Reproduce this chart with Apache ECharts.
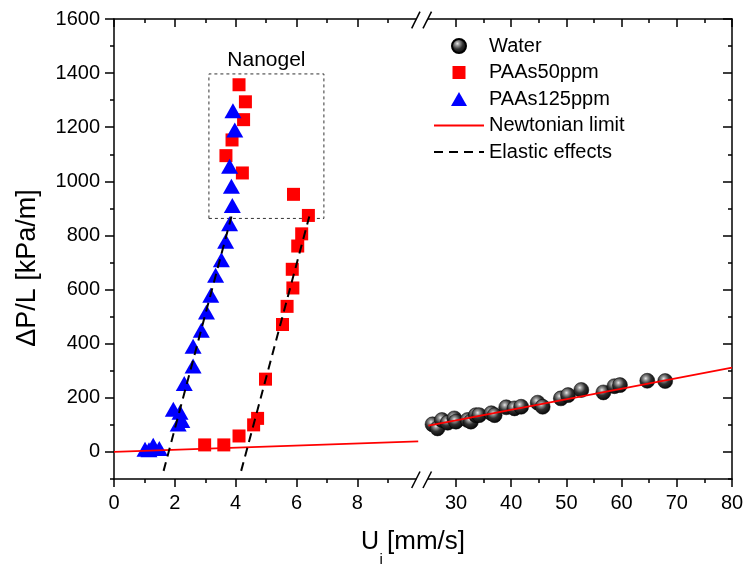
<!DOCTYPE html>
<html>
<head>
<meta charset="utf-8">
<script src="https://cdn.jsdelivr.net/npm/echarts@6/dist/echarts.min.js"></script>
<style>
html,body{margin:0;padding:0;background:#fff;}
#chart{width:747px;height:568px;}
</style>
</head>
<body>
<div id="chart"></div>
<script>
// ---- data ----
const seriesNames = ['Water', 'PAAs50ppm', 'PAAs125ppm', 'Newtonian limit', 'Elastic effects'];
const water = [[25.75,102],[26.65,87],[27.45,118],[28.5,108],[29.7,124],[30,112],[32.1,118],[32.7,112],[33.6,136],[34.2,136],[36.4,143],[37,136],[39.1,165],[40.6,161],[41.8,167],[44.8,182],[45.7,167],[49,198],[50.3,210],[52.7,229],[56.7,220],[58.7,243],[59.7,247],[64.65,263],[67.9,262]];
const paas50 = [[2.98,26],[3.61,26],[4.11,59],[4.59,100],[4.72,124],[4.98,269],[5.54,471],[5.69,538],[5.88,606],[5.86,675],[6.04,761],[6.17,806],[6.39,874],[5.90,952],[4.22,1031],[3.68,1095],[3.88,1153],[4.26,1228],[4.32,1294],[4.11,1357]];
const paas125 = [[1.02,10],[1.15,8],[1.29,25],[1.49,13],[1.95,158],[2.17,147],[2.23,116],[2.11,103],[2.31,253],[2.60,318],[2.60,391],[2.87,450],[3.04,517],[3.18,579],[3.34,653],[3.53,710],[3.67,779],[3.80,843],[3.89,911],[3.86,982],[3.80,1056],[3.97,1190],[3.91,1261]];
const newtonLeft = [[0,0],[10,39]];
const newtonRight = [[25,97.5],[80,312]];
const elasticBlue = [[1.63,-70],[3.86,870]];
const elasticRed = [[4.18,-70],[6.42,870]];
const nanogelBox = [[3.12,863],[6.9,1397]];
const nanogelLabel = 'Nanogel';
// axis ranges & ticks
const xLeftRange = [0, 10];
const xRightRange = [25, 80];
const yRange = [-100, 1600];
const xLeftMajor = [0,2,4,6,8];
const xLeftMinor = [1,3,5,7,9];
const xRightMajor = [30,40,50,60,70,80];
const xRightMinor = [35,45,55,65,75];
const yMajor = [0,200,400,600,800,1000,1200,1400,1600];
const yMinor = [-100,100,300,500,700,900,1100,1300,1500];
const xTitleMain = 'U';
const xTitleSub = 'i';
const xTitleUnit = '[mm/s]';
const yTitle = '\u0394P/L [kPa/m]';

const FONT = 'Arial, "Liberation Sans", sans-serif';
const chart = echarts.init(document.getElementById('chart'), null, {renderer: 'canvas'});

function axis(gridIndex, range, position, ticks, opts) {
  const o = Object.assign({showLine: true, inside: false, len: 8, labels: false}, opts || {});
  return {
    type: 'value', gridIndex: gridIndex, min: range[0], max: range[1], position: position,
    axisLine: {show: o.showLine, onZero: false, lineStyle: {color: '#000', width: 1.5}},
    axisTick: {show: true, inside: o.inside, length: o.len, customValues: ticks, lineStyle: {color: '#000', width: 1.5}},
    axisLabel: o.labels ? {show: true, customValues: ticks, margin: 14, fontSize: 20, color: '#000', fontFamily: FONT,
      formatter: function (v) { return String(v); }} : {show: false},
    splitLine: {show: false},
    minorTick: {show: false}
  };
}

const xAxes = [
  axis(0, xLeftRange, 'bottom', xLeftMajor, {labels: true}),
  axis(0, xLeftRange, 'bottom', xLeftMinor, {showLine: false, len: 4}),
  axis(0, xLeftRange, 'top', xLeftMajor, {inside: true}),
  axis(0, xLeftRange, 'top', xLeftMinor, {showLine: false, inside: true, len: 4}),
  axis(1, xRightRange, 'bottom', xRightMajor, {labels: true}),
  axis(1, xRightRange, 'bottom', xRightMinor, {showLine: false, len: 4}),
  axis(1, xRightRange, 'top', xRightMajor, {inside: true}),
  axis(1, xRightRange, 'top', xRightMinor, {showLine: false, inside: true, len: 4})
];
const yAxes = [
  axis(0, yRange, 'left', yMajor, {labels: true, len: 9}),
  axis(0, yRange, 'left', yMinor, {showLine: false, len: 4}),
  axis(1, yRange, 'right', yMajor, {inside: true, len: 9}),
  axis(1, yRange, 'right', yMinor, {showLine: false, inside: true, len: 4})
];

const sphere = {
  type: 'radial', x: 0.4, y: 0.35, r: 0.7,
  colorStops: [
    {offset: 0, color: '#e8e8e8'},
    {offset: 0.18, color: '#9a9a9a'},
    {offset: 0.5, color: '#303030'},
    {offset: 1, color: '#000000'}
  ]
};

// legend icons: invisible anchor points keep the icon box at 50x14 so shapes are not stretched
const legendIcons = {
  'PAAs50ppm': 'path://M0,0M50,14M18.5,0.5L31.5,0.5L31.5,13.5L18.5,13.5Z',
  'PAAs125ppm': 'path://M0,0M50,14M17,14L33,14L25,0Z'
};

const option = {
  backgroundColor: '#fff',
  animation: false,
  grid: [
    {left: 114, top: 19, width: 304.2, height: 460},
    {left: 428.4, top: 19, width: 303.6, height: 460}
  ],
  xAxis: xAxes,
  yAxis: yAxes,
  legend: {
    data: seriesNames.map(function (n) { return legendIcons[n] ? {name: n, icon: legendIcons[n]} : {name: n}; }),
    orient: 'vertical', left: 433, top: 36, padding: 0,
    itemWidth: 50, itemHeight: 14, itemGap: 6.5,
    textStyle: {fontSize: 20, color: '#000', fontFamily: FONT},
    selectedMode: false
  },
  series: [
    {name: 'Water', type: 'scatter', xAxisIndex: 4, yAxisIndex: 2, data: water,
     symbol: 'circle', symbolSize: 15, itemStyle: {color: sphere, borderColor: '#000', borderWidth: 0.5, opacity: 1}, z: 2},
    {name: 'PAAs50ppm', type: 'scatter', xAxisIndex: 0, yAxisIndex: 0, data: paas50,
     symbol: 'rect', symbolSize: 13, itemStyle: {color: '#ff0000', opacity: 1}, z: 2},
    {name: 'PAAs125ppm', type: 'scatter', xAxisIndex: 0, yAxisIndex: 0, data: paas125,
     symbol: 'triangle', symbolSize: [17, 15], itemStyle: {color: '#0000ff', opacity: 1}, z: 2},
    {name: 'Newtonian limit', type: 'line', xAxisIndex: 0, yAxisIndex: 0, data: newtonLeft,
     symbol: 'none', lineStyle: {color: '#ff0000', width: 1.8}, itemStyle: {color: '#ff0000', opacity: 0}, z: 3},
    {name: 'Newtonian limit', type: 'line', xAxisIndex: 4, yAxisIndex: 2, data: newtonRight,
     symbol: 'none', lineStyle: {color: '#ff0000', width: 1.8}, itemStyle: {color: '#ff0000', opacity: 0}, z: 3},
    {name: 'Elastic effects', type: 'line', xAxisIndex: 0, yAxisIndex: 0, data: elasticBlue,
     symbol: 'none', lineStyle: {color: '#000', width: 2, type: [9, 6]}, itemStyle: {color: '#000', opacity: 0}, z: 3},
    {name: 'Elastic effects', type: 'line', xAxisIndex: 0, yAxisIndex: 0, data: elasticRed,
     symbol: 'none', lineStyle: {color: '#000', width: 2, type: [9, 6]}, itemStyle: {color: '#000', opacity: 0}, z: 3},
    {name: 'nanogel-box', type: 'scatter', xAxisIndex: 0, yAxisIndex: 0, data: [],
     markArea: {
       silent: true,
       itemStyle: {color: 'rgba(0,0,0,0)', borderColor: '#333', borderWidth: 1, borderType: [3, 3]},
       label: {show: true, position: 'top', distance: 3, formatter: nanogelLabel, fontSize: 21, color: '#000', fontFamily: FONT},
       data: [[{coord: nanogelBox[0]}, {coord: nanogelBox[1]}]]
     }}
  ],
  graphic: [
    {type: 'rect', shape: {x: 416.5, y: 16, width: 11, height: 6}, style: {fill: '#fff'}, z: 100},
    {type: 'rect', shape: {x: 416.5, y: 476, width: 11, height: 6}, style: {fill: '#fff'}, z: 100},
    {type: 'line', shape: {x1: 411.7, y1: 28.3, x2: 420, y2: 11.7}, style: {stroke: '#000', lineWidth: 1.5}, z: 101},
    {type: 'line', shape: {x1: 423, y1: 28.3, x2: 431.5, y2: 11.7}, style: {stroke: '#000', lineWidth: 1.5}, z: 101},
    {type: 'line', shape: {x1: 411.7, y1: 488, x2: 420, y2: 471.5}, style: {stroke: '#000', lineWidth: 1.5}, z: 101},
    {type: 'line', shape: {x1: 423, y1: 488, x2: 431.5, y2: 471.5}, style: {stroke: '#000', lineWidth: 1.5}, z: 101},
    {type: 'text', x: 28, y: 268, rotation: Math.PI / 2,
     style: {text: yTitle, font: '27px ' + FONT, fill: '#000', align: 'center', verticalAlign: 'middle'}, z: 100},
    {type: 'text', x: 361, y: 555,
     style: {text: xTitleMain, font: '25px ' + FONT, fill: '#000', align: 'left', verticalAlign: 'bottom'}, z: 100},
    {type: 'text', x: 379.5, y: 567,
     style: {text: xTitleSub, font: '15px ' + FONT, fill: '#000', align: 'left', verticalAlign: 'bottom'}, z: 100},
    {type: 'text', x: 387, y: 555,
     style: {text: xTitleUnit, font: '26px ' + FONT, fill: '#000', align: 'left', verticalAlign: 'bottom'}, z: 100}
  ]
};
chart.setOption(option);
</script>
</body>
</html>
